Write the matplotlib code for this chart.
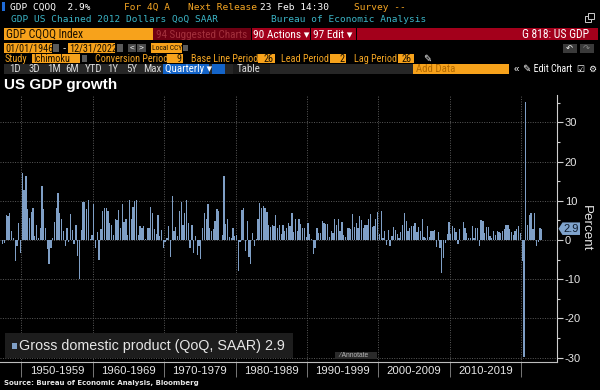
import matplotlib
matplotlib.use("Agg")
import matplotlib.pyplot as plt
from matplotlib import font_manager
from matplotlib.patches import Rectangle, Polygon

# US real GDP, QoQ % change SAAR, 1947 Q2 .. 2022 Q4
gdp_1940s = [-1.0, -0.8, 6.4, 6.2, 6.8, 2.3, 0.4, -5.4, -1.4, 4.3, -3.4]
gdp_1950s = [17.2, 12.7, 16.3, 7.9, 5.6, 7.1, 8.2, 1.1, 3.8, 0.4, 3.0, 13.7,
             7.8, 3.1, -2.2, -6.1, -1.9, 0.5, 4.7, 8.1, 12.0, 6.8, 5.4, 2.3,
             -1.6, 3.1, -0.4, 6.7, 2.5, -1.0, 3.9, -4.1, -10.0, 2.6, 9.6, 9.7,
             7.9, 10.2, 0.3, 1.3]
gdp_1960s = [9.3, -2.1, 2.1, -5.0, 2.7, 7.5, 8.2, 8.1, 7.4, 4.4, 3.8, 1.4,
             5.3, 5.1, 7.7, 3.1, 9.3, 4.7, 5.5, 1.2, 10.2, 5.5, 8.4, 10.0,
             10.1, 1.4, 3.6, 3.2, 3.5, 0.2, 3.2, 3.1, 8.5, 7.0, 2.8, 1.6,
             6.4, 1.1, 2.6, -1.9]
gdp_1970s = [-0.6, 0.6, 3.7, -4.2, 11.3, 2.3, 3.3, 1.1, 7.3, 9.8, 3.8, 6.8,
             10.3, 4.4, -2.1, 3.8, -3.4, 1.0, -3.9, -1.6, -4.8, 3.1, 6.9, 5.4,
             9.3, 3.0, 2.2, 2.9, 4.8, 8.0, 7.4, 0.0, 1.3, 16.4, 4.1, 5.5,
             0.7, 0.4, 3.0, 1.0]
gdp_1980s = [1.3, -8.0, -0.5, 7.7, 8.1, -2.9, 4.9, -4.3, -6.1, 1.8, -1.5, 0.2,
             5.4, 9.4, 8.2, 8.6, 8.1, 7.1, 3.9, 3.3, 3.9, 3.6, 6.4, 3.1,
             3.9, 1.6, 3.9, 2.2, 3.0, 4.4, 3.5, 7.0, 2.1, 5.4, 2.4, 5.4,
             4.1, 3.1, 3.0, 0.8]
gdp_1990s = [4.4, 1.5, 0.3, -3.6, -1.9, 3.1, 1.9, 1.9, 4.9, 4.4, 4.0, 4.2,
             0.7, 2.3, 1.9, 5.4, 3.9, 5.5, 2.4, 4.6, 1.4, 0.9, 3.2, 3.0,
             2.9, 6.7, 3.4, 4.3, 3.1, 6.2, 5.1, 3.1, 3.9, 3.8, 5.3, 6.7,
             3.4, 3.6, 5.4, 7.1]
gdp_2000s = [1.5, 7.5, 0.4, 2.4, -1.3, 2.5, -1.6, 1.1, 3.4, 2.5, 1.6, 0.5,
             2.1, 3.8, 6.9, 4.8, 2.3, 3.0, 3.7, 3.5, 4.3, 2.1, 3.4, 2.3,
             5.4, 0.9, 0.6, 3.5, 0.9, 2.3, 2.2, 2.5, -1.7, 2.1, -2.1, -8.5,
             -4.6, -0.7, 1.5, 4.5]
gdp_2010s = [1.5, 3.7, 3.0, 2.0, -1.0, 2.9, -0.1, 4.7, 3.2, 1.7, 0.5, 0.5,
             3.6, 0.5, 3.2, 3.2, -1.4, 5.2, 4.9, 1.9, 3.3, 3.3, 1.0, 0.4,
             2.4, 1.2, 2.4, 2.0, 1.9, 2.2, 2.9, 3.9, 3.8, 2.7, 2.1, 1.3,
             2.2, 2.7, 3.6, 1.8]
gdp_2020s = [-5.3, -29.9, 35.3, 3.9, 6.3, 7.0, 2.7, 7.0, -1.6, -0.6, 3.2, 2.9]

gdp = (gdp_1940s + gdp_1950s + gdp_1960s + gdp_1970s + gdp_1980s
       + gdp_1990s + gdp_2000s + gdp_2010s + gdp_2020s)
first_quarter = 1947.25
quarters = [first_quarter + 0.25 * i + 0.125 for i in range(len(gdp))]

decades = [1950, 1960, 1970, 1980, 1990, 2000, 2010, 2020]
decade_labels = ["1950-1959", "1960-1969", "1970-1979", "1980-1989",
                 "1990-1999", "2000-2009", "2010-2019"]

W, H = 600, 390
ORANGE = "#f7a21b"
AMBER = "#f5a623"
RED = "#a3001b"
BAR = "#7f9fc6"
INK = "#1a1000"
plt.rcParams["axes.unicode_minus"] = False

# a narrow face for the terminal controls, if one is installed
names = {f.name for f in font_manager.fontManager.ttflist}
NARROW = None
for cand in ["Liberation Sans Narrow", "Roboto Condensed", "Open Sans Condensed"]:
    if cand in names:
        NARROW = cand
        break
if NARROW:
    UI, S = [NARROW, "DejaVu Sans"], 1.0
else:
    UI, S = ["Liberation Sans", "DejaVu Sans"], 0.85

fig = plt.figure(figsize=(6, 3.9), dpi=100, facecolor="black")


def box(x0, y0, x1, y1, color, **kw):
    fig.patches.append(Rectangle((x0 / W, 1 - y1 / H), (x1 - x0) / W, (y1 - y0) / H,
                                 transform=fig.transFigure, facecolor=color,
                                 edgecolor="none", **kw))


def label(x, y, s, color="white", size=7, family=None, **kw):
    fig.text(x / W, 1 - y / H, s, color=color, fontsize=size,
             family=family or ["Liberation Sans", "DejaVu Sans"], va="center", **kw)


def ui(x, y, s, color, size, **kw):
    label(x, y, s, color, size * S, UI, **kw)


# header rows
mono = "DejaVu Sans Mono"
box(2, 2, 5, 11, "#1e6ad6")
label(10, 7, "GDP CQOQ  2.9%", "white", 6.8, mono)
label(124, 7, "For 4Q A", AMBER, 6.8, mono)
label(188, 7, "Next Release", AMBER, 6.8, mono)
label(260, 7, "23 Feb 14:30", "white", 6.8, mono)
label(354, 7, "Survey --", AMBER, 6.8, mono)
label(11, 19, "GDP US Chained 2012 Dollars QoQ SAAR", "#3bb4c6", 6.8, mono)
label(271, 19, "Bureau of Economic Analysis", "#3bb4c6", 6.8, mono)
# pop-out icon
fig.patches.append(Rectangle((585 / W, 1 - 22 / H), 6 / W, 6 / H, transform=fig.transFigure,
                             facecolor="none", edgecolor="#cccccc", linewidth=0.7))
fig.patches.append(Rectangle((588 / W, 1 - 19 / H), 6 / W, 6 / H, transform=fig.transFigure,
                             facecolor="black", edgecolor="#cccccc", linewidth=0.7))

box(4, 28, 598, 40, RED)
box(4, 28, 153, 40, ORANGE)
ui(6, 34.5, "GDP CQOQ Index", INK, 8.4)
box(153, 28, 251, 40, "#6e0012")
ui(156, 34.5, "94 Suggested Charts", "#a2303c", 8)
box(251, 28, 251.8, 40, "black")
ui(253, 34.5, "90 Actions \u25be", "white", 8.2)
box(310, 28, 311, 40, "black")
ui(313, 34.5, "97 Edit \u25be", "white", 8.2)
box(356, 28, 357, 40, "black")
ui(589, 34.5, "G 818: US GDP", "white", 8.4, ha="right")

# date row
box(4, 43, 52, 53, ORANGE)
ui(5, 48, "01/01/1946", INK, 7.4)
box(53, 44, 59, 52, "#5a5a5a")
label(63, 48, "-", "white", 7)
box(68, 43, 115, 53, ORANGE)
ui(69, 48, "12/31/2022", INK, 7.4)
box(117, 44, 123, 52, "#5a5a5a")
box(128, 44, 136, 52, "#4a4a4a")
label(130, 48, "<", "white", 6)
box(137, 44, 146, 52, "#4a4a4a")
label(139, 48, ">", "white", 6)
box(151, 43, 182, 53, ORANGE)
ui(152, 48, "Local CCY", INK, 5.4)
box(183, 45, 188, 51, "#5a5a5a")
box(563, 44, 577, 53, "#3a3a3a")
label(566, 48.5, "\u21b6", "white", 6, "DejaVu Sans")
box(580, 44, 594, 53, "#3a3a3a")
label(583, 48.5, "\u21b7", "#888888", 6, "DejaVu Sans")

# study row
ui(5, 59, "Study", AMBER, 7.4)
box(32, 54, 80, 63, ORANGE)
ui(33, 58.5, "Ichimoku", INK, 7.4)
box(82, 55, 87, 62, "#5a5a5a")
ui(95, 59, "Conversion Period", AMBER, 7.3)
box(167, 54, 183, 63, ORANGE)
ui(181, 58.5, "9", INK, 7.4, ha="right")
ui(191, 59, "Base Line Period", AMBER, 7.3)
box(258, 54, 275, 63, ORANGE)
ui(273, 58.5, "26", INK, 7.4, ha="right")
ui(281, 59, "Lead Period", AMBER, 7.3)
box(330, 54, 346, 63, ORANGE)
ui(344, 58.5, "2", INK, 7.4, ha="right")
ui(354, 59, "Lag Period", AMBER, 7.3)
box(398, 54, 414, 63, ORANGE)
ui(412, 58.5, "26", INK, 7.4, ha="right")
label(423, 59, "\u270e", "white", 7, "DejaVu Sans")

# range buttons
box(4, 64, 413, 74, "#262626")
for x, s in [(9, "1D"), (28, "3D"), (47, "1M"), (65, "6M"), (85, "YTD"),
             (107, "1Y"), (126, "5Y"), (143, "Max")]:
    ui(x, 69, s, "#d8d8d8", 7.8)
box(163, 64, 209, 74, "#1464c8")
ui(165, 69, "Quarterly \u25be", "white", 7.8)
box(212, 64, 225, 74, "#1464c8")
box(233, 64, 270, 74, "#1b1b1b")
ui(237, 69, "Table", "#d8d8d8", 7.8)
box(413, 64, 509, 74, ORANGE)
ui(416, 69, "Add Data", "#b36a00", 7.8)
label(514, 69, "\u00ab", "white", 7)
ui(523, 69, "\u270e Edit Chart", "white", 7.2)
label(576, 69, "\u2611", "white", 6.5, "DejaVu Sans")
label(588, 69, "\u2699", "white", 6.5, "DejaVu Sans")

label(4, 85, "US GDP growth", "white", 11, weight="bold")

# chart
ax = fig.add_axes([0, 1 - 362 / H, 557 / W, (362 - 95) / H])
ax.set_facecolor("black")
ax.bar(quarters, gdp, width=0.18, color=BAR, linewidth=0)
ax.set_xlim(1947, 2025)
ax.set_ylim(-31.1, 37)

ax.set_xticks(decades)
ax.set_xticklabels([])
ax.set_xticks([d + 5 for d in decades[:-1]], minor=True)
ax.set_xticklabels(decade_labels, minor=True)
ax.tick_params(axis="x", which="major", direction="out", length=11, width=0.6,
               color="#8a8a8a")
ax.tick_params(axis="x", which="minor", length=0, pad=3, labelsize=8.2,
               labelcolor="#e6e6e6")
ax.set_yticks(range(-30, 31, 10))
ax.set_yticks(range(-25, 36, 10), minor=True)
ax.yaxis.tick_right()
ax.tick_params(axis="y", which="major", direction="out", length=4, width=0.8,
               color="#cfcfcf", labelsize=8, labelcolor="#e6e6e6", pad=1.5)
ax.tick_params(axis="y", which="minor", direction="out", length=2.5, width=0.8,
               color="#cfcfcf")
for t in ax.get_xticklabels(minor=True) + ax.get_yticklabels():
    t.set_family("Liberation Sans")
ax.grid(True, which="major", color="#5a5a5a", linestyle=(0, (1, 1.5)), linewidth=0.7)
ax.set_axisbelow(True)
for side in ["left", "top"]:
    ax.spines[side].set_visible(False)
ax.spines["right"].set_color("#cfcfcf")
ax.spines["bottom"].set_color("#bdbdbd")
ax.spines["right"].set_linewidth(0.8)
ax.spines["bottom"].set_linewidth(0.8)
ax.yaxis.set_label_position("right")
ax.set_ylabel("Percent", rotation=270, color="#e6e6e6", fontsize=9.6,
              family="Liberation Sans", labelpad=8)

# last value tag
last = gdp[-1]
tr = ax.get_yaxis_transform()
x0, x1 = 1 + 1.5 / 557, 1 + 23 / 557
ax.add_patch(Polygon([(x0, last), (x0 + 4 / 557, last + 1.6), (x1, last + 1.6),
                      (x1, last - 1.6), (x0 + 4 / 557, last - 1.6)],
                     closed=True, transform=tr, facecolor="#7fa3cc",
                     edgecolor="none", clip_on=False))
ax.text((x0 + 4 / 557 + x1) / 2, last, f"{last}", transform=tr, ha="center",
        va="center", fontsize=8, color="#0c1a2c", family="Liberation Sans",
        clip_on=False)

# legend
box(5, 333, 293, 358, "#1d1d1d")
box(12, 343, 17, 349, BAR)
label(19, 346, f"Gross domestic product (QoQ, SAAR) {last}", "#e6e6e6", 10.3)

box(335, 352, 377, 359, "#2a2a2a")
label(339, 355.5, "\u2044 Annotate", "#bbbbbb", 4.8)

label(4, 383.5, "Source: Bureau of Economic Analysis, Bloomberg", "#e6e6e6", 5,
      "DejaVu Sans", weight="bold")

fig.savefig("out.png", dpi=100, facecolor="black")
